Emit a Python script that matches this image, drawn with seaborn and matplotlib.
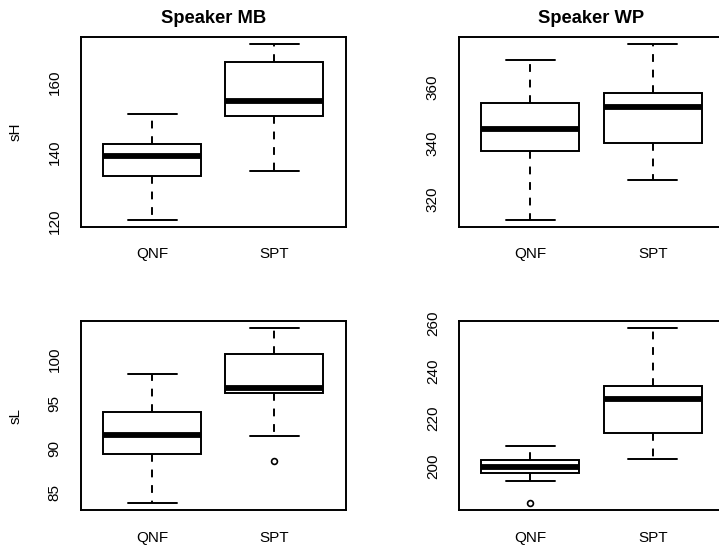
import matplotlib
matplotlib.use("Agg")
import matplotlib.pyplot as plt
import pandas as pd
import seaborn as sns

# ---------------- data ----------------
groups = ["QNF", "SPT"]
titles = ["Speaker MB", "Speaker WP"]
ylabels = ["sH", "sL"]

# five-number summaries: [lower whisker, Q1, median, Q3, upper whisker]
mb_sh_qnf = [120.4, 133.1, 138.9, 142.3, 150.9]
mb_sh_spt = [134.5, 150.4, 154.7, 165.9, 171.0]
wp_sh_qnf = [312.9, 337.2, 345.1, 354.4, 369.6]
wp_sh_spt = [326.9, 340.2, 353.0, 357.9, 375.3]
mb_sl_qnf = [83.84, 89.33, 91.42, 94.07, 98.36]
mb_sl_spt = [91.34, 96.12, 96.75, 100.6, 103.43]
wp_sl_qnf = [193.8, 197.3, 199.9, 202.8, 208.4]
wp_sl_spt = [202.9, 213.8, 228.3, 233.7, 257.9]

# outliers
mb_sl_spt_out = [88.58]
wp_sl_qnf_out = [184.6]

# y ticks and labels
mb_sh_ticks = [120, 130, 140, 150, 160, 170]
mb_sh_labels = ["120", "", "140", "", "160", ""]
wp_sh_ticks = [320, 330, 340, 350, 360, 370]
wp_sh_labels = ["320", "", "340", "", "360", ""]
mb_sl_ticks = [85, 90, 95, 100]
mb_sl_labels = ["85", "90", "95", "100"]
wp_sl_ticks = [200, 220, 240, 260]
wp_sl_labels = ["200", "220", "240", "260"]

# ---------------- style ----------------
sns.set_style("white")
plt.rcParams["font.family"] = ["Liberation Sans", "DejaVu Sans"]
plt.rcParams["text.color"] = "black"
plt.rcParams["axes.labelcolor"] = "black"
plt.rcParams["xtick.color"] = "black"
plt.rcParams["ytick.color"] = "black"
plt.rcParams["axes.edgecolor"] = "black"

FS = 11
TFS = 13.2
LW = 1.4

W, H = 719, 551
fig = plt.figure(figsize=(W / 100, H / 100), dpi=100)


def rect(left, top, right, bottom):
    return [left / W, 1 - bottom / H, (right - left) / W, (bottom - top) / H]


panels = [
    dict(rect=rect(81, 37.3, 345.5, 226.7), qnf=mb_sh_qnf, spt=mb_sh_spt,
         out_qnf=[], out_spt=[], ticks=mb_sh_ticks, labels=mb_sh_labels,
         title=titles[0], ylabel=ylabels[0]),
    dict(rect=rect(459.3, 37.3, 723.8, 226.7), qnf=wp_sh_qnf, spt=wp_sh_spt,
         out_qnf=[], out_spt=[], ticks=wp_sh_ticks, labels=wp_sh_labels,
         title=titles[1], ylabel=None),
    dict(rect=rect(81, 321.3, 345.5, 510), qnf=mb_sl_qnf, spt=mb_sl_spt,
         out_qnf=[], out_spt=mb_sl_spt_out, ticks=mb_sl_ticks, labels=mb_sl_labels,
         title=None, ylabel=ylabels[1]),
    dict(rect=rect(459.3, 321.3, 723.8, 510), qnf=wp_sl_qnf, spt=wp_sl_spt,
         out_qnf=wp_sl_qnf_out, out_spt=[], ticks=wp_sl_ticks, labels=wp_sl_labels,
         title=None, ylabel=None),
]

for p in panels:
    ax = fig.add_axes(p["rect"])
    df = pd.DataFrame({
        "group": [groups[0]] * len(p["qnf"]) + [groups[1]] * len(p["spt"]),
        "value": p["qnf"] + p["spt"],
    })
    sns.boxplot(
        data=df, x="group", y="value", order=groups, ax=ax,
        color="white", linecolor="black", linewidth=LW, width=0.8,
        whis=(0, 100), showfliers=False, saturation=1,
        medianprops=dict(linewidth=4.2),
        whiskerprops=dict(linestyle=(0, (4, 4))),
    )
    odf = pd.DataFrame({
        "group": [groups[0]] * len(p["out_qnf"]) + [groups[1]] * len(p["out_spt"]),
        "value": p["out_qnf"] + p["out_spt"],
    })
    if len(odf):
        sns.stripplot(
            data=odf, x="group", y="value", order=groups, ax=ax,
            jitter=False, color="white", edgecolor="black", linewidth=1.2,
            size=4.2, marker="o", zorder=5,
        )

    allv = p["qnf"] + p["spt"] + p["out_qnf"] + p["out_spt"]
    lo, hi = min(allv), max(allv)
    pad = 0.04 * (hi - lo)
    ax.set_ylim(lo - pad, hi + pad)
    ax.set_xlim(-0.58, 1.58)

    ax.set_yticks(p["ticks"])
    ax.set_yticklabels(p["labels"], rotation=90, va="center", fontsize=FS,
                       color="black")
    ax.set_xticks([0, 1])
    ax.set_xticklabels(groups, fontsize=FS, color="black")
    ax.tick_params(axis="both", direction="out", length=6.8, width=LW,
                   colors="black", labelcolor="black")
    ax.tick_params(axis="y", pad=7.2)
    ax.tick_params(axis="x", pad=8)
    for s in ax.spines.values():
        s.set_visible(True)
        s.set_color("black")
        s.set_linewidth(LW)
    ax.set_xlabel("")
    if p["ylabel"]:
        ax.set_ylabel(p["ylabel"], fontsize=FS, va="center", color="black")
        ax.yaxis.set_label_coords(-0.249, 0.5)
    else:
        ax.set_ylabel("")
    if p["title"]:
        ax.set_title(p["title"], fontsize=TFS, fontweight="bold", pad=10,
                     color="black")
    ax.grid(False)

fig.savefig("out.png", dpi=100)
